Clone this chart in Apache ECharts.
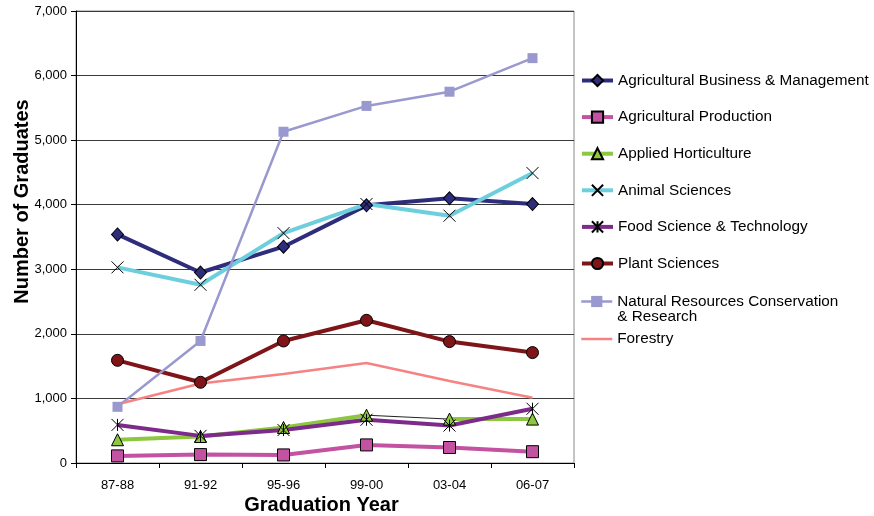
<!DOCTYPE html>
<html>
<head>
<meta charset="utf-8">
<script src="https://cdn.jsdelivr.net/npm/echarts@6/dist/echarts.min.js"></script>
<style>
  html, body { margin: 0; padding: 0; background: #ffffff; }
  #chart { width: 874px; height: 516px; }
</style>
</head>
<body>
<div id="chart"></div>
<script>
// Graduates by program area, per graduation year
const categories = ['87-88', '91-92', '95-96', '99-00', '03-04', '06-07'];
const yTicks = [0, 1000, 2000, 3000, 4000, 5000, 6000, 7000];

const agBusiness          = [3540, 2950, 3350, 3990, 4100, 4010];
const agProduction        = [110, 130, 125, 280, 240, 175];
const appliedHorticulture = [360, 410, 550, 740, 680, 680];
const animalSciences      = [3030, 2760, 3560, 4010, 3830, 4490];
const foodScience         = [590, 420, 510, 670, 580, 840];
const plantSciences       = [1590, 1250, 1890, 2210, 1880, 1710];
const naturalResources    = [870, 1890, 5130, 5530, 5750, 6270];
const forestry            = [910, 1230, 1380, 1550, 1270, 1010];

const NAT_RES = 'Natural Resources Conservation & Research';
const HORT = 'Applied Horticulture';

const X_MARK = 'path://M0,0L10,10M10,0L0,10';
const STAR_MARK = 'path://M0,0L10,10M10,0L0,10M5,0L5,10';

function lineSeries(name, data, color, width, symbol, size, fill, border) {
  return {
    name: name,
    type: 'line',
    data: data,
    symbol: symbol,
    symbolSize: size,
    showSymbol: symbol !== 'none',
    lineStyle: { color: color, width: width },
    itemStyle: {
      color: fill,
      borderColor: border || fill,
      borderWidth: border ? 1 : 0
    },
    emphasis: { disabled: true },
    animation: false
  };
}

// keep only the points whose index passes the test (others become gaps)
function pick(arr, test) {
  return arr.map((v, i) => (test(i) ? v : '-'));
}

const GREEN = '#8dc63f';

const series = [
  lineSeries('Agricultural Business & Management', agBusiness, '#2e2d7c', 4, 'diamond', [12, 13], '#2e2d7c', '#000'),
  lineSeries('Agricultural Production', agProduction, '#c352a2', 4, 'rect', 12, '#c352a2', '#000'),
  lineSeries(HORT, pick(appliedHorticulture, i => i <= 3), GREEN, 4, 'triangle', 12, GREEN, '#000'),
  lineSeries(HORT, pick(appliedHorticulture, i => i >= 4), GREEN, 4, 'triangle', 12, GREEN, '#000'),
  lineSeries('hort-link', pick(appliedHorticulture, i => i === 3 || i === 4), '#222', 1, 'none', 0, '#222'),
  lineSeries('Animal Sciences', animalSciences, '#6dcfdd', 4, X_MARK, 12, '#000', '#000'),
  lineSeries('Food Science & Technology', foodScience, '#7d2b8a', 4, STAR_MARK, 12, '#000', '#000'),
  lineSeries('Plant Sciences', plantSciences, '#7f1519', 4, 'circle', 12, '#7f1519', '#000'),
  lineSeries(NAT_RES, naturalResources, '#9999cf', 2.5, 'rect', 10, '#9999cf'),
  lineSeries('Forestry', forestry, '#f58383', 2.5, 'none', 0, '#f58383')
];

const FONT = 'Liberation Sans, Arial, sans-serif';
const legendText = { fontFamily: FONT, fontSize: 15.3, color: '#000', lineHeight: 16 };
const thickLine = { width: 4 };
const thinLine = { width: 2.5 };

const chart = echarts.init(document.getElementById('chart'), null, { renderer: 'canvas' });
chart.setOption({
  backgroundColor: '#ffffff',
  animation: false,
  grid: {
    left: 76, right: 300, top: 11, bottom: 53,
    outerBoundsMode: 'none',
    containLabel: false,
    show: true, borderColor: '#8a8a8a', borderWidth: 1, backgroundColor: 'transparent'
  },
  legend: [
    {
      orient: 'vertical', left: 575, top: 67.5,
      itemWidth: 31, itemHeight: 14, itemGap: 20.6,
      textStyle: legendText,
      lineStyle: thickLine,
      selectedMode: false,
      data: [
        'Agricultural Business & Management',
        'Agricultural Production',
        HORT,
        'Animal Sciences',
        'Food Science & Technology',
        'Plant Sciences'
      ]
    },
    {
      orient: 'vertical', left: 575, top: 274,
      itemWidth: 31, itemHeight: 14, itemGap: 7,
      textStyle: legendText,
      lineStyle: thinLine,
      selectedMode: false,
      formatter: function (name) {
        return name === NAT_RES ? ' \nNatural Resources Conservation\n& Research' : name;
      },
      data: [
        { name: NAT_RES, textStyle: { lineHeight: 15 } },
        { name: 'Forestry', itemStyle: { opacity: 0 } }
      ]
    }
  ],
  xAxis: {
    type: 'category',
    data: categories,
    boundaryGap: true,
    name: 'Graduation Year',
    nameLocation: 'middle',
    nameGap: 32,
    nameMoveOverlap: false,
    nameTextStyle: { fontFamily: FONT, fontSize: 20, fontWeight: 'bold', color: '#000', padding: [0, 7, 0, 0] },
    axisLine: { lineStyle: { color: '#000', width: 1 } },
    axisTick: { show: true, inside: false, length: 5, lineStyle: { color: '#000' } },
    axisLabel: { margin: 16, fontFamily: FONT, fontSize: 13, color: '#000' },
    splitLine: { show: false }
  },
  yAxis: {
    type: 'value',
    min: yTicks[0],
    max: yTicks[yTicks.length - 1],
    interval: yTicks[1] - yTicks[0],
    name: 'Number of Graduates',
    nameLocation: 'middle',
    nameGap: 44,
    nameMoveOverlap: false,
    nameTextStyle: {
      fontFamily: FONT, fontSize: 20, fontWeight: 'bold', color: '#000',
      padding: [0, 0, 0, 71]
    },
    axisLine: { show: true, lineStyle: { color: '#000', width: 1 } },
    axisTick: { show: true, inside: false, length: 5, lineStyle: { color: '#000' } },
    axisLabel: {
      margin: 9, fontFamily: FONT, fontSize: 13, color: '#000',
      formatter: v => v.toLocaleString('en-US')
    },
    splitLine: { show: true, lineStyle: { color: '#3a3a3a', width: 1 } }
  },
  series: series
});
</script>
</body>
</html>
